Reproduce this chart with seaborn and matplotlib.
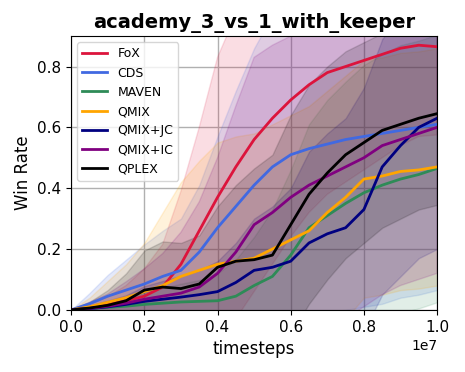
import numpy as np
import pandas as pd
import seaborn as sns
import matplotlib
matplotlib.use("Agg")
import matplotlib.pyplot as plt

steps = [i * 5e5 for i in range(21)]

methods = ["FoX", "CDS", "MAVEN", "QMIX", "QMIX+JC", "QMIX+IC", "QPLEX"]
colors = ["crimson", "royalblue", "seagreen", "orange", "navy", "purple", "black"]

fox_mean = [0, 0.008, 0.018, 0.03, 0.045, 0.075, 0.15, 0.26, 0.37, 0.47, 0.56, 0.63, 0.69, 0.74, 0.78, 0.80, 0.82, 0.84, 0.86, 0.87, 0.865]
cds_mean = [0, 0.02, 0.045, 0.065, 0.085, 0.11, 0.13, 0.19, 0.27, 0.34, 0.41, 0.47, 0.51, 0.53, 0.545, 0.56, 0.57, 0.58, 0.59, 0.60, 0.61]
maven_mean = [0, 0.004, 0.008, 0.012, 0.018, 0.022, 0.026, 0.028, 0.03, 0.045, 0.08, 0.11, 0.18, 0.27, 0.31, 0.35, 0.385, 0.41, 0.43, 0.445, 0.465]
qmix_mean = [0, 0.01, 0.025, 0.04, 0.06, 0.08, 0.11, 0.13, 0.15, 0.16, 0.17, 0.20, 0.23, 0.26, 0.32, 0.37, 0.43, 0.44, 0.455, 0.46, 0.47]
jc_mean = [0, 0.004, 0.01, 0.018, 0.028, 0.035, 0.042, 0.05, 0.06, 0.09, 0.13, 0.14, 0.16, 0.22, 0.25, 0.27, 0.33, 0.47, 0.54, 0.60, 0.63]
ic_mean = [0, 0.005, 0.012, 0.022, 0.035, 0.045, 0.055, 0.075, 0.12, 0.19, 0.28, 0.32, 0.37, 0.41, 0.44, 0.47, 0.50, 0.54, 0.56, 0.58, 0.60]
qplex_mean = [0, 0.006, 0.015, 0.03, 0.065, 0.075, 0.07, 0.085, 0.14, 0.16, 0.165, 0.18, 0.28, 0.38, 0.45, 0.51, 0.55, 0.59, 0.61, 0.63, 0.645]

fox_std = [0, 0.01, 0.025, 0.05, 0.09, 0.14, 0.24, 0.34, 0.46, 0.5, 0.5, 0.48, 0.45, 0.42, 0.40, 0.38, 0.36, 0.34, 0.32, 0.30, 0.29]
cds_std = [0, 0.035, 0.07, 0.10, 0.13, 0.15, 0.17, 0.22, 0.30, 0.38, 0.45, 0.5, 0.52, 0.54, 0.55, 0.56, 0.56, 0.56, 0.55, 0.55, 0.545]
maven_std = [0, 0.01, 0.02, 0.03, 0.04, 0.05, 0.06, 0.07, 0.09, 0.12, 0.16, 0.22, 0.28, 0.34, 0.38, 0.40, 0.42, 0.43, 0.44, 0.44, 0.44]
qmix_std = [0, 0.03, 0.07, 0.11, 0.16, 0.24, 0.31, 0.36, 0.40, 0.41, 0.41, 0.41, 0.41, 0.41, 0.40, 0.40, 0.39, 0.39, 0.39, 0.39, 0.39]
jc_std = [0, 0.01, 0.02, 0.03, 0.05, 0.06, 0.07, 0.08, 0.1, 0.13, 0.17, 0.2, 0.24, 0.3, 0.33, 0.36, 0.4, 0.42, 0.43, 0.43, 0.43]
ic_std = [0, 0.02, 0.04, 0.07, 0.1, 0.14, 0.2, 0.28, 0.38, 0.48, 0.55, 0.55, 0.53, 0.51, 0.5, 0.5, 0.49, 0.49, 0.48, 0.48, 0.48]
qplex_std = [0, 0.02, 0.05, 0.09, 0.13, 0.15, 0.15, 0.16, 0.2, 0.25, 0.3, 0.33, 0.36, 0.36, 0.35, 0.34, 0.33, 0.32, 0.31, 0.3, 0.3]

means = [fox_mean, cds_mean, maven_mean, qmix_mean, jc_mean, ic_mean, qplex_mean]
stds = [fox_std, cds_std, maven_std, qmix_std, jc_std, ic_std, qplex_std]

rows = []
for m, mu, sd in zip(methods, means, stds):
    for t, v, s in zip(steps, mu, sd):
        rows.append({"method": m, "timesteps": t, "win": v, "sd": s})
df = pd.DataFrame(rows)

fig = plt.figure(figsize=(4.65, 3.72), dpi=100)
ax = fig.add_axes([0.153, 0.167, 0.787, 0.736])

for m, c in zip(methods, colors):
    d = df[df["method"] == m]
    ax.fill_between(d["timesteps"], d["win"] - d["sd"], d["win"] + d["sd"], color=c, alpha=0.14)

sns.lineplot(data=df, x="timesteps", y="win", hue="method", hue_order=methods,
             palette=dict(zip(methods, colors)), linewidth=2, ax=ax)

ax.set_xlim(0, 1e7)
ax.set_ylim(0, 0.9)
ax.grid(True, color="#b0b0b0", linewidth=1)
ax.set_axisbelow(True)
ax.tick_params(labelsize=11)
ax.set_xlabel("timesteps", fontsize=12)
ax.set_ylabel("Win Rate", fontsize=12)
ax.set_title("academy_3_vs_1_with_keeper", fontsize=14, fontweight="bold")
ax.legend(loc="upper left", fontsize=9, title=None)

plt.savefig("out.png", dpi=100)
plt.close()
